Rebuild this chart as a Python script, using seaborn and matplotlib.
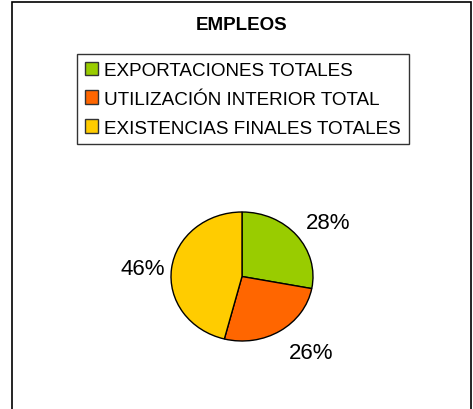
import matplotlib
matplotlib.use("Agg")
import matplotlib.pyplot as plt
from matplotlib.patches import Patch, Rectangle
import seaborn as sns

# datos del grafico
categorias = ['EXPORTACIONES TOTALES', 'UTILIZACIÓN INTERIOR TOTAL', 'EXISTENCIAS FINALES TOTALES']
valores = [28, 26, 46]
colores = ['#99CC00', '#FF6600', '#FFCC00']
etiquetas = ['28%', '26%', '46%']

sns.set_theme(style='white')
plt.rcParams['font.family'] = ['Liberation Sans', 'DejaVu Sans']
plt.rcParams['text.color'] = 'black'

fig = plt.figure(figsize=(4.73, 4.10), dpi=100)

# marco exterior
fig.patches.append(Rectangle((12 / 473, -0.05), 459 / 473, 1.05 - 3 / 410,
                             transform=fig.transFigure, fill=False,
                             edgecolor='black', linewidth=1.2))

# pastel (eliptico)
ax = fig.add_axes([171 / 473, 68 / 410, 142 / 473, 129 / 410])
wedges, _ = ax.pie(valores, colors=colores, startangle=90, counterclock=False,
                   wedgeprops={'edgecolor': 'black', 'linewidth': 1.0})
for w in wedges:
    w.set_clip_on(False)
ax.set_aspect('auto')
ax.set_xlim(-1, 1)
ax.set_ylim(-1, 1)
ax.axis('off')

# posiciones de etiquetas en coordenadas de datos
pos = [(1.22, 0.84), (0.97, -1.18), (-1.4, 0.13)]
for (x, y), t in zip(pos, etiquetas):
    ax.text(x, y, t, ha='center', va='center', fontsize=16, color='black', clip_on=False)

fig.text(242 / 473, 1 - 26 / 410, 'EMPLEOS', ha='center', va='center',
         fontsize=13.5, fontweight='bold', color='black')

# leyenda
handles = [Patch(facecolor=c, edgecolor='#333333', linewidth=1.0) for c in colores]
leg = fig.legend(handles, categorias, loc='upper left',
                 bbox_to_anchor=(77 / 473, 1 - 55 / 410),
                 frameon=True, fancybox=False, shadow=False,
                 fontsize=13.6, handlelength=0.7, handleheight=0.7,
                 handletextpad=0.35, labelspacing=0.62, borderpad=0.4,
                 borderaxespad=0)
for t in leg.get_texts():
    t.set_color('black')
leg.get_frame().set_edgecolor('black')
leg.get_frame().set_linewidth(1.0)

fig.savefig('out.png', dpi=100)
